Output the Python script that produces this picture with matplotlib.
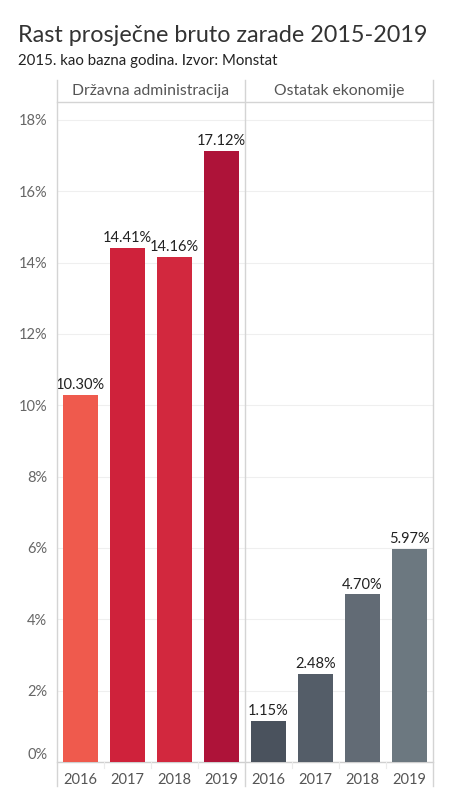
import matplotlib
matplotlib.use("Agg")
import matplotlib.pyplot as plt
from matplotlib.ticker import FuncFormatter

plt.rcParams['font.family'] = ['Lato', 'DejaVu Sans']

years = ["2016", "2017", "2018", "2019"]
panels = ["Državna administracija", "Ostatak ekonomije"]
drzavna = [10.30, 14.41, 14.16, 17.12]
ostatak = [1.15, 2.48, 4.70, 5.97]
colors_drzavna = ["#EF5A4D", "#CF223B", "#D2283E", "#AE1339"]
colors_ostatak = ["#4A525D", "#545D68", "#626B75", "#6C7880"]
yticks = [0, 2, 4, 6, 8, 10, 12, 14, 16, 18]

W, H = 450, 800
fig = plt.figure(figsize=(4.5, 8), dpi=100)

L, R, T, B = 57, 433, 102, 762
ax = fig.add_axes([L / W, (H - B) / H, (R - L) / W, (B - T) / H])

values = drzavna + ostatak
colors = colors_drzavna + colors_ostatak
xs = list(range(len(values)))
ax.bar(xs, values, width=0.74, color=colors, zorder=3)
for x, v in zip(xs, values):
    ax.annotate(f"{v:.2f}%", (x, v), xytext=(0, 2), textcoords="offset points",
                ha="center", va="bottom", fontsize=10.5, color="#222222", zorder=4)

ax.set_xlim(-0.5, 7.5)
ax.set_ylim(0, 18.5)
ax.set_yticks(yticks)
ax.yaxis.set_major_formatter(FuncFormatter(lambda v, p: f"{v:.0f}%"))
ax.tick_params(axis="y", length=0, pad=7, labelsize=10.5, labelcolor="#666666")
for lab in ax.get_yticklabels():
    if lab.get_text() == "0%":
        lab.set_verticalalignment("bottom")
ax.set_xticks(xs)
ax.set_xticklabels(years + years)
ax.tick_params(axis="x", length=0, pad=8, labelsize=10.5, labelcolor="#555555")
ax.grid(axis="y", color="#EFEFEF", linewidth=0.8, zorder=0)
for s in ["top", "right", "left"]:
    ax.spines[s].set_visible(False)
ax.spines["bottom"].set_color("#CFCFCF")
ax.spines["bottom"].set_linewidth(1.0)

def fx(px):
    return px / W
def fy(py):
    return (H - py) / H

line_kw = dict(color="#D4D4D4", linewidth=1.0, transform=fig.transFigure)
for px in [L, 245, R]:
    fig.add_artist(plt.Line2D([fx(px), fx(px)], [fy(80), fy(786)], **line_kw))
fig.add_artist(plt.Line2D([fx(L), fx(R)], [fy(T), fy(T)], **line_kw))
sep_kw = dict(color="#EBEBEB", linewidth=0.8, transform=fig.transFigure)
panel_w = (R - L) / 8
for i in range(1, 8):
    if i == 4:
        continue
    px = L + i * panel_w
    fig.add_artist(plt.Line2D([fx(px), fx(px)], [fy(762), fy(768)], **sep_kw))

fig.text(fx((L + 245) / 2), fy(91), panels[0], ha="center", va="center",
         fontsize=11.3, color="#555555")
fig.text(fx((245 + R) / 2), fy(91), panels[1], ha="center", va="center",
         fontsize=11.3, color="#555555")

fig.text(fx(18), fy(36), "Rast prosječne bruto zarade 2015-2019", ha="left", va="center",
         fontsize=16.8, color="#333333")
fig.text(fx(18), fy(61), "2015. kao bazna godina. Izvor: Monstat", ha="left", va="center",
         fontsize=10.8, color="#222222")

fig.savefig("out.png", dpi=100, facecolor="white")
